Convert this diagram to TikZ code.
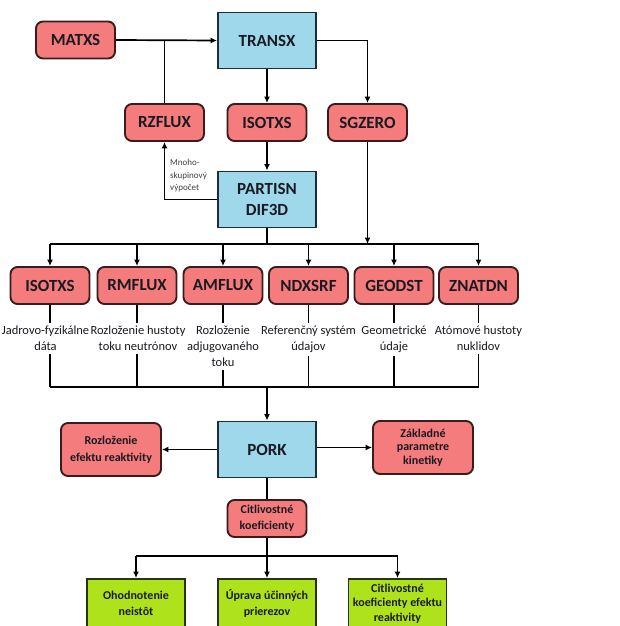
\documentclass[tikz,border=0pt]{standalone}
\usepackage{fontspec}
\setmainfont{Carlito}
\usetikzlibrary{arrows.meta}
\definecolor{pinkf}{HTML}{F47C7C}
\definecolor{pinkd}{HTML}{3A1C1C}
\definecolor{cyanf}{HTML}{9ED8EA}
\definecolor{cyand}{HTML}{1E2E38}
\definecolor{greenf}{HTML}{AEE31C}
\definecolor{greend}{HTML}{26340E}
\definecolor{txt}{HTML}{1A1A22}
\begin{document}
\begin{tikzpicture}[x=1pt,y=-1pt,
  pinkbox/.style={draw=pinkd, fill=pinkf, line width=1.9pt, rounded corners=7pt,
    minimum width=79pt, minimum height=37pt, align=center, inner sep=1pt, text=txt,
    font=\fontsize{17}{20}\selectfont\bfseries},
  pinksmall/.style={pinkbox, font=\fontsize{12}{16}\selectfont\bfseries},
  cyanbox/.style={draw=cyand, fill=cyanf, line width=1.9pt, minimum width=98pt,
    minimum height=56pt, align=center, inner sep=1pt, text=txt,
    font=\fontsize{17}{21}\selectfont\bfseries},
  greenbox/.style={draw=greend, fill=greenf, line width=1.9pt, minimum width=98pt,
    minimum height=49pt, align=center, inner sep=1pt, text=txt,
    font=\fontsize{12}{15.5}\selectfont\bfseries},
  caption/.style={align=center, inner xsep=0pt, inner ysep=3pt, text=txt,
    font=\fontsize{12.5}{16}\selectfont},
  note/.style={align=left, inner sep=0pt, text=black!75,
    font=\fontsize{9}{12.5}\selectfont},
  conn/.style={line width=1.7pt, draw=black},
  arr/.style={conn, -{Latex[length=6.5pt,width=6pt]}},
]
\useasboundingbox (0,0) rectangle (619,626);
\clip (0,0) rectangle (619,626);
\fill[white] (0,0) rectangle (619,626);

% coordinates of bus lines
\coordinate (b1) at (0,244);
\coordinate (b2) at (0,387);
\coordinate (b3) at (0,556);

% top part
\node[pinkbox] (matxs) at (75.5,40) {MATXS};
\node[cyanbox] (transx) at (267,40.5) {TRANSX};
\node[pinkbox] (rzflux) at (164.5,122.5) {RZFLUX};
\node[pinkbox] (isotxsA) at (267,122.5) {ISOTXS};
\node[pinkbox] (sgzero) at (367.5,122.5) {SGZERO};
\node[cyanbox] (partisn) at (267,199.5) {PARTISN\\DIF3D};
\node[note, anchor=north west] (lbl) at (170,159.5) {Mnoho-\\skupinový\\výpočet};

% second row
\node[pinkbox] (isotxsB) at (50,285.5) {ISOTXS};
\node[pinkbox] (rmflux) at (137,285.5) {RMFLUX};
\node[pinkbox] (amflux) at (223,285.5) {AMFLUX};
\node[pinkbox] (ndxsrf) at (308.5,285.5) {NDXSRF};
\node[pinkbox] (geodst) at (394,285.5) {GEODST};
\node[pinkbox] (znatdn) at (478.5,285.5) {ZNATDN};

\node[caption, anchor=north] (cA) at (45.5,323) {Jadrovo-fyzikálne\\dáta};
\node[caption, anchor=north] (cB) at (138,323) {Rozloženie hustoty\\toku neutrónov};
\node[caption, anchor=north] (cC) at (223,323) {Rozloženie\\adjugovaného\\toku};
\node[caption, anchor=north] (cD) at (308.5,323) {Referenčný systém\\údajov};
\node[caption, anchor=north] (cE) at (394,323) {Geometrické\\údaje};
\node[caption, anchor=north] (cF) at (478.5,323) {Atómové hustoty\\nuklidov};

% PORK part
\node[cyanbox] (pork) at (267,449.5) {PORK};
\node[pinksmall, minimum width=100pt, minimum height=53pt,
  font=\fontsize{12}{17}\selectfont\bfseries] (rozl) at (111,449.5) {Rozloženie\\efektu reaktivity};
\node[pinksmall, minimum width=100pt, minimum height=53pt,
  font=\fontsize{12}{13.5}\selectfont\bfseries] (zakl) at (423,447.5) {Základné\\parametre\\kinetiky};
\node[pinksmall] (citl) at (267,518.5) {Citlivostné\\koeficienty};

\node[greenbox] (g1) at (136,603.5) {Ohodnotenie\\neistôt};
\node[greenbox] (g2) at (267,603.5) {Úprava účinných\\prierezov};
\node[greenbox, font=\fontsize{12}{14.5}\selectfont\bfseries] (g3) at (397.5,603.5) {Citlivostné\\koeficienty efektu\\reaktivity};

% connectors top
\draw[arr] (matxs.east) -- (transx.west);
\draw[conn] (rzflux.north) -- (rzflux.north |- matxs.east);
\draw[arr] (transx.east) -| (sgzero.north);
\draw[arr] (transx.south) -- (isotxsA.north);
\draw[arr] (isotxsA.south) -- (partisn.north);
\draw[arr] (partisn.west) -| (rzflux.south);
\draw[arr] (sgzero.south) -- (sgzero.south |- b1);
\draw[conn] (partisn.south) -- (partisn.south |- b1);

% bus 1
\draw[conn] (isotxsB |- b1) -- (znatdn |- b1);
\foreach \n in {isotxsB,rmflux,amflux,ndxsrf,geodst,znatdn}
  \draw[arr] (\n |- b1) -- (\n.north);

% box to caption and caption to bus 2
\draw[conn] (isotxsB.south) -- (isotxsB.south |- cA.north);
\draw[conn] (rmflux.south) -- (rmflux.south |- cB.north);
\draw[conn] (amflux.south) -- (amflux.south |- cC.north);
\draw[conn] (ndxsrf.south) -- (ndxsrf.south |- cD.north);
\draw[conn] (geodst.south) -- (geodst.south |- cE.north);
\draw[conn] (znatdn.south) -- (znatdn.south |- cF.north);
\draw[conn] (isotxsB.south |- cA.south) -- (isotxsB |- b2);
\draw[conn] (rmflux.south |- cB.south) -- (rmflux |- b2);
\draw[conn] (amflux.south |- cC.south) -- (amflux |- b2);
\draw[conn] (ndxsrf.south |- cD.south) -- (ndxsrf |- b2);
\draw[conn] (geodst.south |- cE.south) -- (geodst |- b2);
\draw[conn] (znatdn.south |- cF.south) -- (znatdn |- b2);
\draw[conn] (isotxsB |- b2) -- (znatdn |- b2);
\draw[arr] (pork |- b2) -- (pork.north);

% PORK outputs
\draw[arr] (pork.west) -- (rozl.east);
\draw[arr] (pork.east |- zakl.west) -- (zakl.west);
\draw[conn] (pork.south) -- (citl.north);
\draw[conn] (citl.south) -- (citl.south |- b3);
\draw[conn] (g1 |- b3) -- (g3 |- b3);
\foreach \n in {g1,g2,g3}
  \draw[arr] (\n |- b3) -- (\n.north);
\end{tikzpicture}
\end{document}
